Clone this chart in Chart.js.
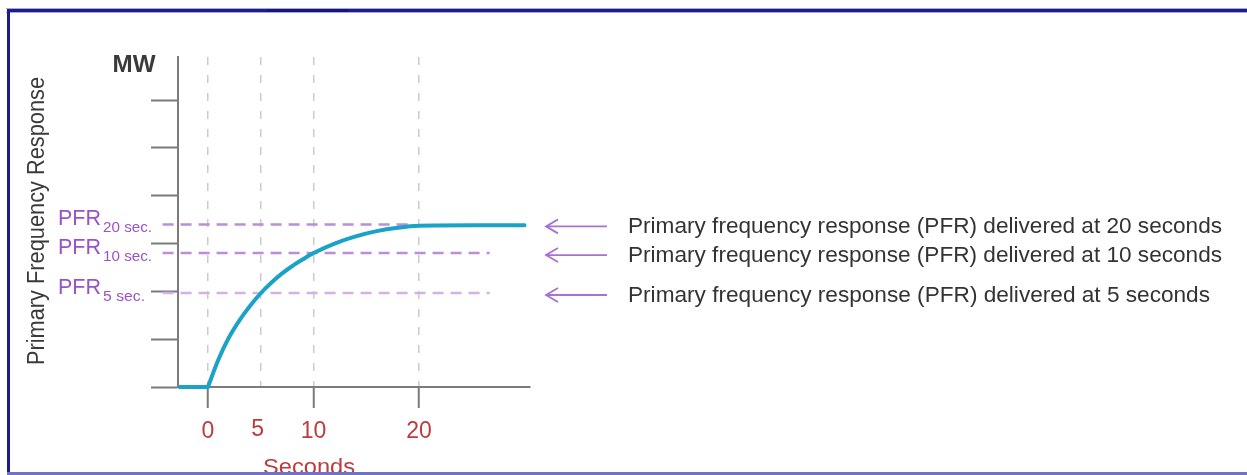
<!DOCTYPE html>
<html>
<head>
<meta charset="utf-8">
<style>
html,body{margin:0;padding:0;background:#fff;overflow:hidden}
#wrap{width:1247px;height:475px;position:relative}
canvas{display:block}
</style>
<script src="https://cdn.jsdelivr.net/npm/chart.js@4.4.1/dist/chart.umd.min.js"></script>
</head>
<body>
<div id="wrap"><canvas id="c" width="1247" height="475"></canvas></div>
<script>
// ---- data ----
const idleSeconds = [-2.8, 0];
const idleMW      = [0, 0];
const seconds    = [0, 1, 2, 3, 4, 5, 6, 7, 8, 9, 10, 12, 14, 16, 18, 20, 25, 30];
const responseMW = [0, 0.58, 1.04, 1.40, 1.70, 1.96, 2.18, 2.37, 2.53, 2.67, 2.8, 3.0, 3.15, 3.26, 3.33, 3.37, 3.38, 3.38];
const xTickValues = [0, 5, 10, 20];
const xTickLabels = ['0', '5', '10', '20'];
const yTickValues = [0, 1, 2, 3, 4, 5, 6];
const pfrNames   = ['20 sec.', '10 sec.', '5 sec.'];
const pfrLevels  = [3.4, 2.8, 1.965];
const pfrLineEnds = [19.3, 26.7, 26.7];
const pfrLineStart = -4.3;
const pfrDescriptions = [
  'Primary frequency response (PFR) delivered at 20 seconds',
  'Primary frequency response (PFR) delivered at 10 seconds',
  'Primary frequency response (PFR) delivered at 5 seconds'
];
const yAxisTitle = 'Primary Frequency Response';
const yUnit = 'MW';
const xAxisTitle = 'Seconds';

// ---- styling ----
const FONT = '"Liberation Sans", Arial, sans-serif';
const PURPLE_TXT = '#9a52c8';
const RED_TXT = '#bd3b3e';
const AXIS = '#7b7b7b';
const CURVE = '#1ba3c7';

function fitText(ctx, text, x, y, font, width, align) {
  ctx.save();
  ctx.font = font;
  ctx.textBaseline = 'alphabetic';
  ctx.textAlign = 'left';
  const w = ctx.measureText(text).width;
  const s = width ? width / w : 1;
  const drawnW = w * s;
  let x0 = x;
  if (align === 'center') x0 = x - drawnW / 2;
  else if (align === 'right') x0 = x - drawnW;
  ctx.translate(x0, y);
  ctx.scale(s, 1);
  ctx.fillText(text, 0, 0);
  ctx.restore();
}

const decor = {
  id: 'decor',
  afterDraw(chart) {
    const ctx = chart.ctx;
    const xs = chart.scales.x, ys = chart.scales.y;

    // unit label
    ctx.fillStyle = '#3a3a3a';
    fitText(ctx, yUnit, 134, 72, 'bold 23px ' + FONT, 43, 'center');

    // rotated axis title
    ctx.save();
    ctx.translate(44, 221);
    ctx.rotate(-Math.PI / 2);
    ctx.fillStyle = '#3a3a3a';
    fitText(ctx, yAxisTitle, 0, 0, '23px ' + FONT, 288, 'center');
    ctx.restore();

    // PFR labels, arrows, descriptions
    const subW = [49, 49, 42];
    const descW = [594, 594, 582];
    pfrLevels.forEach((lv, i) => {
      const py = ys.getPixelForValue(lv);
      ctx.fillStyle = PURPLE_TXT;
      fitText(ctx, 'PFR', 58, py + 1, '22px ' + FONT, 43, 'left');
      fitText(ctx, pfrNames[i], 103, py + 8, '15px ' + FONT, subW[i], 'left');

      const ay = py + 2;
      ctx.save();
      ctx.strokeStyle = '#a772d3';
      ctx.lineWidth = 1.8;
      ctx.beginPath();
      ctx.moveTo(607, ay); ctx.lineTo(546, ay);
      ctx.moveTo(558, ay - 7); ctx.lineTo(546, ay); ctx.lineTo(558, ay + 7);
      ctx.stroke();
      ctx.restore();

      ctx.fillStyle = '#333333';
      fitText(ctx, pfrDescriptions[i], 628, py + 9, '22px ' + FONT, descW[i], 'left');
    });

    // x tick labels
    ctx.fillStyle = RED_TXT;
    xTickValues.forEach((v, i) => {
      const px = xs.getPixelForValue(v);
      const dx = v === 5 ? -3 : 0;
      const by = v === 5 ? 436 : 438;
      fitText(ctx, xTickLabels[i], px + dx, by, '23px ' + FONT, null, 'center');
    });

    // x axis title (cut by frame)
    ctx.save();
    ctx.beginPath(); ctx.rect(0, 0, 1247, 472); ctx.clip();
    ctx.fillStyle = RED_TXT;
    fitText(ctx, xAxisTitle, 309, 474, '22px ' + FONT, 92, 'center');
    ctx.restore();

    // frame
    ctx.save();
    ctx.fillStyle = '#a8a8dc';
    ctx.fillRect(6, 8, 1241, 1);
    ctx.fillRect(6, 12, 1241, 1);
    ctx.fillStyle = '#1c1c8c';
    ctx.fillRect(7, 9, 1240, 3);
    ctx.fillRect(7, 9, 3, 466);
    ctx.fillStyle = '#15157a';
    ctx.fillRect(267, 9, 81, 3);
    ctx.fillStyle = '#7272c4';
    ctx.fillRect(7, 472, 1240, 3);
    ctx.restore();
  }
};

const pfrSets = pfrLevels.map((lv, i) => ({
  data: [{ x: pfrLineStart, y: lv }, { x: pfrLineEnds[i], y: lv }],
  borderColor: i === 2 ? '#d3b2e3' : '#bb8fd8',
  borderWidth: 2.5,
  borderDash: [11, 7],
  pointRadius: 0,
  clip: false,
  tension: 0
}));

new Chart(document.getElementById('c'), {
  type: 'line',
  data: {
    datasets: [
      {
        data: seconds.map((s, i) => ({ x: s, y: responseMW[i] })),
        borderColor: CURVE,
        borderWidth: 4,
        pointRadius: 0,
        cubicInterpolationMode: 'monotone',
        borderCapStyle: 'round',
        clip: false
      },
      {
        data: idleSeconds.map((s, i) => ({ x: s, y: idleMW[i] })),
        borderColor: CURVE,
        borderWidth: 4,
        pointRadius: 0,
        tension: 0,
        clip: false
      },
      ...pfrSets
    ]
  },
  options: {
    responsive: false,
    animation: false,
    devicePixelRatio: 1,
    layout: { padding: { left: 151, right: 717, top: 57, bottom: 67 } },
    plugins: { legend: { display: false }, tooltip: { enabled: false }, title: { display: false } },
    scales: {
      x: {
        type: 'linear',
        min: -2.84,
        max: 30.52,
        afterBuildTicks: s => { s.ticks = xTickValues.map(v => ({ value: v })); },
        afterFit: s => { s.height = 21; },
        ticks: { display: false },
        grid: {
          drawOnChartArea: true,
          drawTicks: true,
          tickLength: 21,
          color: '#cbcbcb',
          lineWidth: 1.5,
          tickColor: c => (c.tick && c.tick.value === 5) ? 'rgba(0,0,0,0)' : AXIS,
          tickWidth: 2
        },
        border: { display: true, color: AXIS, width: 2, dash: [8, 10] }
      },
      y: {
        type: 'linear',
        min: 0,
        max: 6.9,
        afterBuildTicks: s => { s.ticks = yTickValues.map(v => ({ value: v })); },
        afterFit: s => { s.width = 27; },
        ticks: { display: false },
        grid: {
          drawOnChartArea: false,
          drawTicks: true,
          tickLength: 27,
          tickColor: AXIS,
          tickWidth: 2
        },
        border: { display: true, color: AXIS, width: 2 }
      }
    }
  },
  plugins: [decor]
});
</script>
</body>
</html>
